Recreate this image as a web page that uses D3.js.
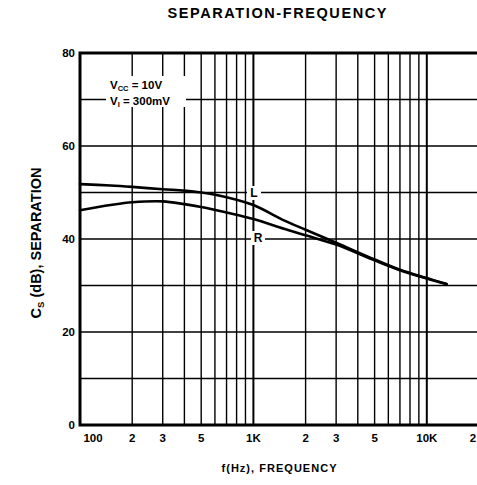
<!DOCTYPE html>
<html>
<head>
<meta charset="utf-8">
<script src="https://cdnjs.cloudflare.com/ajax/libs/d3/7.8.5/d3.min.js"></script>
<style>
  body { margin: 0; background: #fff; }
  svg { display: block; font-family: "Liberation Sans", Arial, sans-serif; font-weight: bold; }
</style>
</head>
<body>
<div id="chart"></div>
<script>
// values
const freq = [100, 150, 200, 300, 400, 500, 700, 1000, 1500, 2000, 3000, 5000, 7000, 10000, 13000];
const sepL = [51.8, 51.5, 51.2, 50.7, 50.4, 50.0, 49.0, 47.3, 44.0, 42.0, 39.2, 35.6, 33.4, 31.6, 30.3];
const sepR = [46.2, 47.3, 47.9, 48.1, 47.5, 46.9, 45.7, 44.3, 42.2, 40.8, 38.8, 35.4, 33.3, 31.5, 30.3];
const yTicks = [0, 20, 40, 60, 80];
const xTicks = [100, 200, 300, 500, 1000, 2000, 3000, 5000, 10000, 20000];
const xTickLabels = ["100", "2", "3", "5", "1K", "2", "3", "5", "10K", "2"];

const svgWidth = 477, svgHeight = 485;
const plotLeft = 80, plotRight = 479, plotTop = 53, plotBottom = 425;

const svg = d3.select('#chart')
  .append('svg')
  .attr('width', svgWidth)
  .attr('height', svgHeight);

const x = d3.scaleLog().domain([100, 20000]).range([plotLeft, plotRight]);
const y = d3.scaleLinear().domain([0, 80]).range([plotBottom, plotTop]);

// grid
const vLines = [];
[100, 1000].forEach(dec => { for (let m = 2; m <= 9; m++) vLines.push(dec * m); });
const grid = svg.append('g');
grid.selectAll('.vg')
  .data(vLines)
  .enter()
  .append('line')
  .attr('x1', d => x(d)).attr('x2', d => x(d))
  .attr('y1', plotTop).attr('y2', plotBottom)
  .attr('stroke', '#000').attr('stroke-width', 1.4);

grid.selectAll('.dg')
  .data([1000, 10000])
  .enter()
  .append('line')
  .attr('x1', d => x(d)).attr('x2', d => x(d))
  .attr('y1', plotTop).attr('y2', plotBottom)
  .attr('stroke', '#000').attr('stroke-width', 2);

grid.selectAll('.hg')
  .data(d3.range(10, 80, 10))
  .enter()
  .append('line')
  .attr('x1', plotLeft).attr('x2', plotRight)
  .attr('y1', d => y(d)).attr('y2', d => y(d))
  .attr('stroke', '#000').attr('stroke-width', 1.4);

// frame
svg.append('path')
  .attr('d', `M${plotRight},${plotTop}H${plotLeft}V${plotBottom}H${plotRight}`)
  .attr('fill', 'none')
  .attr('stroke', '#000')
  .attr('stroke-width', 3);

// annotation box
const note = svg.append('g');
note.append('rect')
  .attr('x', 106).attr('y', 76)
  .attr('width', 80).attr('height', 31)
  .attr('fill', '#fff');
const t1 = note.append('text').attr('x', 110).attr('y', 89).attr('font-size', 11.5);
t1.append('tspan').text('V');
t1.append('tspan').attr('font-size', 7.5).attr('dy', 2).text('CC');
t1.append('tspan').attr('dy', -2).text(' = 10V');
const t2 = note.append('text').attr('x', 110).attr('y', 105).attr('font-size', 11.5);
t2.append('tspan').text('V');
t2.append('tspan').attr('font-size', 7.5).attr('dy', 2).text('I');
t2.append('tspan').attr('dy', -2).text(' = 300mV');

// curves
const line = d3.line()
  .x((d, i) => x(freq[i]))
  .y(d => y(d))
  .curve(d3.curveCatmullRom.alpha(0.5));

[sepL, sepR].forEach(s => {
  svg.append('path')
    .attr('d', line(s))
    .attr('fill', 'none')
    .attr('stroke', '#000')
    .attr('stroke-width', 2.6)
    .attr('stroke-linecap', 'round');
});

// curve labels
svg.append('rect').attr('x', 247).attr('y', 186).attr('width', 14).attr('height', 14).attr('fill', '#fff');
svg.append('text').attr('x', 254).attr('y', 197).attr('font-size', 12).attr('text-anchor', 'middle').text('L');
svg.append('rect').attr('x', 251).attr('y', 231).attr('width', 14).attr('height', 14).attr('fill', '#fff');
svg.append('text').attr('x', 258).attr('y', 242).attr('font-size', 12).attr('text-anchor', 'middle').text('R');

// tick labels
svg.selectAll('.yl')
  .data(yTicks)
  .enter()
  .append('text')
  .attr('x', 75)
  .attr('y', d => y(d) + 4)
  .attr('text-anchor', 'end')
  .attr('font-size', 11.5)
  .text(d => d);

svg.selectAll('.xl')
  .data(xTicks)
  .enter()
  .append('text')
  .attr('x', (d, i) => x(d) + (i === 0 ? 13 : i === xTicks.length - 1 ? -6 : 0))
  .attr('y', 442)
  .attr('text-anchor', 'middle')
  .attr('font-size', 11.5)
  .text((d, i) => xTickLabels[i]);

// titles
svg.append('text')
  .attr('x', 277).attr('y', 18)
  .attr('text-anchor', 'middle')
  .attr('font-size', 14.5)
  .attr('textLength', 219)
  .attr('lengthAdjust', 'spacing')
  .text('SEPARATION-FREQUENCY');

svg.append('text')
  .attr('x', 279).attr('y', 472)
  .attr('text-anchor', 'middle')
  .attr('font-size', 11)
  .attr('textLength', 115)
  .attr('lengthAdjust', 'spacing')
  .text('f(Hz), FREQUENCY');

const yt = svg.append('text')
  .attr('transform', 'translate(41,243) rotate(-90)')
  .attr('text-anchor', 'middle')
  .attr('font-size', 14.5);
yt.append('tspan').text('C');
yt.append('tspan').attr('font-size', 9.5).attr('dy', 3).text('S');
yt.append('tspan').attr('dy', -3).text(' (dB), SEPARATION');
</script>
</body>
</html>
